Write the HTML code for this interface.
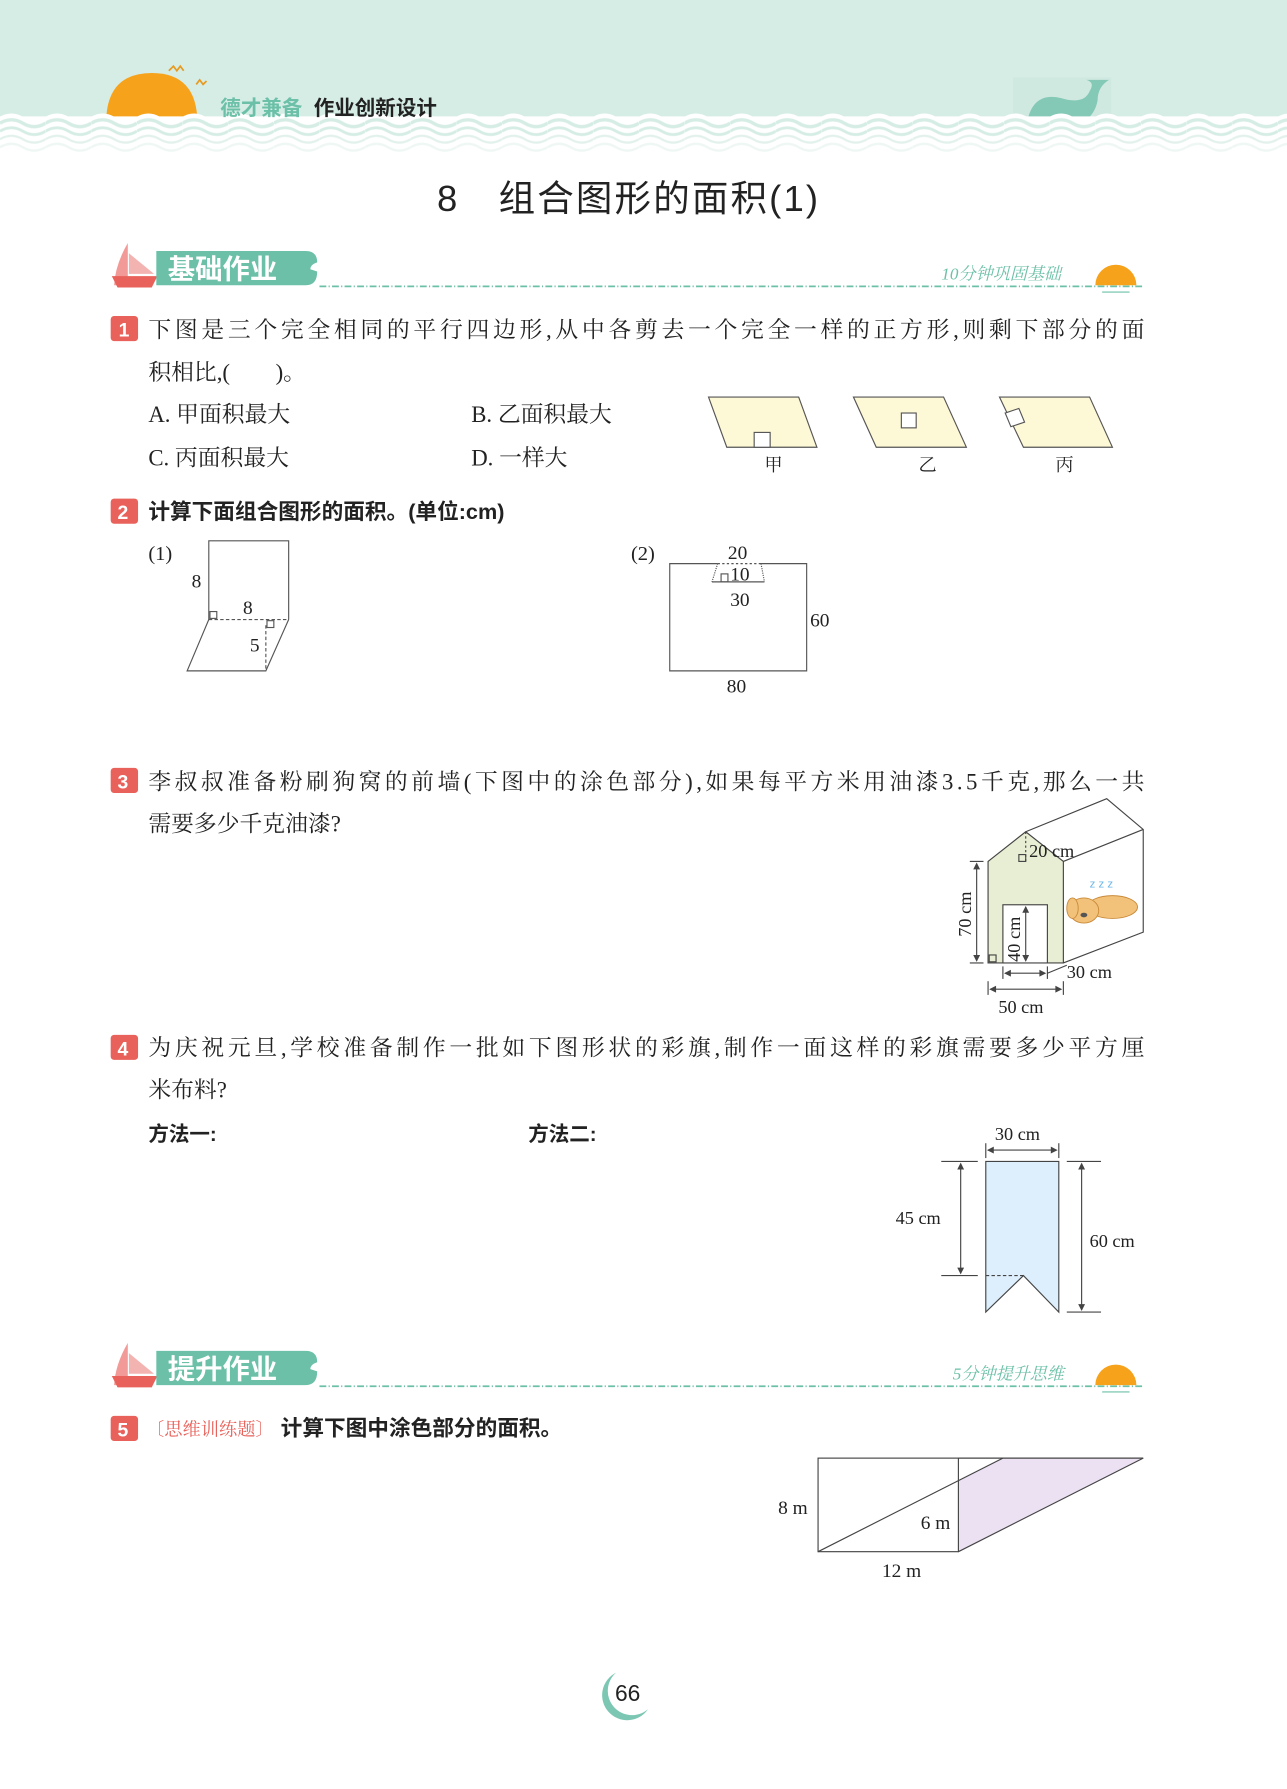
<!DOCTYPE html>
<html><head><meta charset="utf-8"><style>
html,body{margin:0;padding:0;background:#fff;}
svg{display:block;}
text{font-family:"Liberation Serif","Noto Serif CJK SC","Noto Sans CJK SC",serif;fill:#222;}
.s{font-family:"Liberation Sans","Noto Sans CJK SC",sans-serif;}
.b{font-weight:bold;}
</style></head><body>
<svg width="1287" height="1789" viewBox="0 0 1128 1568" xmlns="http://www.w3.org/2000/svg">
<defs>
<pattern id="wv" x="0" y="0" width="40" height="34" patternUnits="userSpaceOnUse">
<rect width="40" height="34" fill="#fff"/>
<path d="M0 6 Q10 0 20 6 T40 6" stroke="#d6ede6" stroke-width="3" fill="none"/>
<path d="M0 13 Q10 7 20 13 T40 13" stroke="#d6ede6" stroke-width="2.5" fill="none"/>
<path d="M0 20 Q10 14 20 20 T40 20" stroke="#e2f1ec" stroke-width="2" fill="none"/>
<path d="M0 27 Q10 21 20 27 T40 27" stroke="#eef7f4" stroke-width="2" fill="none"/>
</pattern>
</defs>
<!-- header -->
<rect x="0" y="0" width="1128" height="106" fill="#d6ede6"/>
<path d="M93 108 Q93 64 133 64 Q173 64 173 108 Z" fill="#f6a21b"/>
<path d="M148 62 l4 -4 l3 4 l3 -4 l3 4" stroke="#e69a20" fill="none" stroke-width="1.5"/>
<path d="M172 74 l3 -4 l3 4 l3 -3" stroke="#e69a20" fill="none" stroke-width="1.5"/>
<rect x="888" y="68" width="86" height="46" fill="#cfe8e0"/>
<path d="M900 108 Q905 80 930 86 Q950 92 955 80 Q960 72 952 70 L972 70 Q962 76 962 88 Q958 110 930 112 Z" fill="#84c9b5"/>
<rect x="0" y="102" width="1128" height="32" fill="url(#wv)"/>
<path d="M0 104 Q10 98 20 104 T40 104 T60 104 T80 104 T100 104 T120 104 T140 104 T160 104 T180 104 T200 104 T220 104 T240 104 T260 104 T280 104 T300 104 T320 104 T340 104 T360 104 T380 104 T400 104 T420 104 T440 104 T460 104 T480 104 T500 104 T520 104 T540 104 T560 104 T580 104 T600 104 T620 104 T640 104 T660 104 T680 104 T700 104 T720 104 T740 104 T760 104 T780 104 T800 104 T820 104 T840 104 T860 104 T880 104 T900 104 T920 104 T940 104 T960 104 T980 104 T1000 104 T1020 104 T1040 104 T1060 104 T1080 104 T1100 104 T1120 104 T1140 104" stroke="#fff" stroke-width="3" fill="none"/>
<text x="193" y="101" class="s b" font-size="18" style="fill:#6cc0a8">德才兼备</text>
<text x="275" y="101" class="s b" font-size="18">作业创新设计</text>
<!-- title -->
<text x="383" y="185" class="s" font-size="32">8</text>
<text x="437" y="185" class="s" font-size="32" textLength="280">组合图形的面积(1)</text>
<!-- section 1 banner -->
<path d="M112 213 L112 250 L100 250 Q101 232 112 213Z" fill="#f19a97"/>
<path d="M113 222 L135 240 L113 240Z" fill="#f3b3b1"/>
<path d="M98 242 L138 242 L133 252 L103 252Z" fill="#e8615a"/>
<path d="M137 220 L268 220 Q278 220 278 230 Q272 232 272 236 L278 238 Q278 250 268 250 L137 250Z" fill="#6cc0a8"/>
<text x="147" y="244" class="s b" font-size="24" style="fill:#fff">基础作业</text>
<line x1="280" y1="251" x2="1003" y2="251" stroke="#6cc0a8" stroke-width="1.5" stroke-dasharray="6 2 1 2"/>
<text x="825" y="245" font-size="15" style="fill:#6cc0a8;font-style:italic">10分钟巩固基础</text>
<path d="M960 250 A18 18 0 0 1 996 250Z" fill="#f6a21b"/>
<line x1="966" y1="256" x2="990" y2="256" stroke="#6cc0a8"/>
<!-- Q1 -->
<rect x="97" y="277" width="24" height="22" rx="3" fill="#e8615a"/>
<text x="104" y="295" class="s b" font-size="17" style="fill:#fff">1</text>
<text x="130" y="296" font-size="20" textLength="873">下图是三个完全相同的平行四边形,从中各剪去一个完全一样的正方形,则剩下部分的面</text>
<text x="130" y="333" font-size="20">积相比,(　　)。</text>
<text x="130" y="370" font-size="20">A.  甲面积最大</text>
<text x="413" y="370" font-size="20">B.  乙面积最大</text>
<text x="130" y="408" font-size="20">C.  丙面积最大</text>
<text x="413" y="408" font-size="20">D.  一样大</text>
<g stroke="#555" stroke-width="1" fill="#fdf8d5">
<polygon points="621,348 700,348 716,392 637,392"/>
<rect x="661" y="379" width="14" height="13" fill="#fff"/>
<polygon points="748,348 827,348 847,392 768,392"/>
<rect x="790" y="362" width="13" height="13" fill="#fff"/>
<polygon points="876,348 955,348 975,392 897,392"/>
<polygon points="881,362 893,358 898,370 886,374" fill="#fff"/>
</g>
<text x="670" y="413" font-size="16">甲</text>
<text x="805" y="413" font-size="16">乙</text>
<text x="925" y="413" font-size="16">丙</text>
<!-- Q2 -->
<rect x="97" y="437" width="24" height="22" rx="3" fill="#e8615a"/>
<text x="103" y="455" class="s b" font-size="17" style="fill:#fff">2</text>
<text x="130" y="455" class="s b" font-size="19">计算下面组合图形的面积。(单位:cm)</text>
<text x="130" y="491" font-size="18">(1)</text>
<g stroke="#555" stroke-width="1" fill="none">
<polyline points="183,543 183,474 253,474 253,543"/>
<line x1="183" y1="543" x2="253" y2="543" stroke-dasharray="3 2"/>
<polyline points="183,543 164,588 233,588 253,543"/>
<line x1="233" y1="548" x2="233" y2="588" stroke-dasharray="3 2"/>
<rect x="184" y="536" width="6" height="6"/>
<rect x="234" y="544" width="6" height="6"/>
</g>
<text x="168" y="515" font-size="17">8</text>
<text x="213" y="538" font-size="17">8</text>
<text x="219" y="571" font-size="17">5</text>
<text x="553" y="491" font-size="18">(2)</text>
<g stroke="#555" stroke-width="1" fill="none">
<polyline points="629,494 587,494 587,588 707,588 707,494 667,494"/>
<line x1="629" y1="494" x2="667" y2="494" stroke-dasharray="2 2"/>
<line x1="624" y1="510" x2="670" y2="510"/>
<line x1="629" y1="494" x2="624" y2="510" stroke-dasharray="1 1"/>
<line x1="667" y1="494" x2="670" y2="510" stroke-dasharray="1 1"/>
<rect x="632" y="503" width="6" height="7"/>
</g>
<text x="638" y="490" font-size="17">20</text>
<text x="640" y="509" font-size="17">10</text>
<text x="640" y="531" font-size="17">30</text>
<text x="710" y="549" font-size="17">60</text>
<text x="637" y="607" font-size="17">80</text>
<!-- Q3 -->
<rect x="97" y="673" width="24" height="22" rx="3" fill="#e8615a"/>
<text x="103" y="691" class="s b" font-size="17" style="fill:#fff">3</text>
<text x="130" y="692" font-size="20" textLength="873">李叔叔准备粉刷狗窝的前墙(下图中的涂色部分),如果每平方米用油漆3.5千克,那么一共</text>
<text x="130" y="729" font-size="20">需要多少千克油漆?</text>
<g stroke="#444" stroke-width="1" fill="none">
<polygon points="866,755 899,729 932,755 932,844 866,844" fill="#e8eed3"/>
<rect x="879" y="793" width="39" height="51" fill="#fff"/>
<polyline points="899,729 970,700 1002,727 1002,817 932,844"/>
<line x1="932" y1="755" x2="1002" y2="727"/>
<line x1="899" y1="729" x2="899" y2="755" stroke-dasharray="2 2"/>
<rect x="893" y="749" width="6" height="6"/>
<rect x="867" y="837" width="6" height="6"/>
<line x1="856" y1="757" x2="856" y2="842"/>
<line x1="850" y1="755" x2="862" y2="755"/><line x1="850" y1="844" x2="862" y2="844"/>
<line x1="899" y1="795" x2="899" y2="842"/>
<line x1="881" y1="853" x2="916" y2="853"/>
<line x1="879" y1="847" x2="879" y2="858"/><line x1="918" y1="847" x2="918" y2="858"/>
<line x1="918" y1="853" x2="935" y2="846"/>
<line x1="868" y1="867" x2="930" y2="867"/>
<line x1="866" y1="860" x2="866" y2="872"/><line x1="932" y1="860" x2="932" y2="872"/>
</g>
<g fill="#444">
<path d="M856 756 l-3 6 h6z"/><path d="M856 843 l-3 -6 h6z"/>
<path d="M899 794 l-3 6 h6z"/><path d="M899 843 l-3 -6 h6z"/>
<path d="M880 853 l6 -3 v6z"/><path d="M917 853 l-6 -3 v6z"/>
<path d="M867 867 l6 -3 v6z"/><path d="M931 867 l-6 -3 v6z"/>
</g>
<g fill="#f3c27a" stroke="#c98a3a" stroke-width="0.8">
<ellipse cx="975" cy="795" rx="22" ry="10"/>
<ellipse cx="950" cy="798" rx="13" ry="11"/>
<ellipse cx="940" cy="796" rx="5" ry="9"/>
</g>
<ellipse cx="950" cy="802" rx="3" ry="2" fill="#555"/>
<text x="955" y="778" class="s" font-size="10" style="fill:#6ab6e8">z z z</text>
<text x="902" y="751" font-size="16">20 cm</text>
<text x="935" y="857" font-size="16">30 cm</text>
<text x="875" y="888" font-size="16">50 cm</text>
<text transform="translate(851,821) rotate(-90)" font-size="16">70 cm</text>
<text transform="translate(894,843) rotate(-90)" font-size="16">40 cm</text>
<!-- Q4 -->
<rect x="97" y="907" width="24" height="22" rx="3" fill="#e8615a"/>
<text x="103" y="925" class="s b" font-size="17" style="fill:#fff">4</text>
<text x="130" y="925" font-size="20" textLength="873">为庆祝元旦,学校准备制作一批如下图形状的彩旗,制作一面这样的彩旗需要多少平方厘</text>
<text x="130" y="962" font-size="20">米布料?</text>
<text x="130" y="1000" class="s b" font-size="18">方法一:</text>
<text x="463" y="1000" class="s b" font-size="18">方法二:</text>
<g stroke="#444" stroke-width="1" fill="none">
<polygon points="864,1018 928,1018 928,1150 897,1118 864,1150" fill="#ddeefc"/>
<line x1="864" y1="1118" x2="897" y2="1118" stroke-dasharray="3 2"/>
<line x1="825" y1="1018" x2="857" y2="1018"/><line x1="825" y1="1118" x2="857" y2="1118"/>
<line x1="842" y1="1020" x2="842" y2="1116"/>
<line x1="935" y1="1018" x2="965" y2="1018"/><line x1="935" y1="1150" x2="965" y2="1150"/>
<line x1="948" y1="1020" x2="948" y2="1148"/>
<line x1="866" y1="1008" x2="926" y2="1008"/>
<line x1="864" y1="1002" x2="864" y2="1015"/><line x1="928" y1="1002" x2="928" y2="1015"/>
</g>
<g fill="#444">
<path d="M842 1019 l-3 6 h6z"/><path d="M842 1117 l-3 -6 h6z"/>
<path d="M948 1019 l-3 6 h6z"/><path d="M948 1149 l-3 -6 h6z"/>
<path d="M865 1008 l6 -3 v6z"/><path d="M927 1008 l-6 -3 v6z"/>
</g>
<text x="872" y="999" font-size="16">30 cm</text>
<text x="785" y="1073" font-size="16">45 cm</text>
<text x="955" y="1093" font-size="16">60 cm</text>
<!-- section 2 banner -->
<path d="M112 1177 L112 1214 L100 1214 Q101 1196 112 1177Z" fill="#f19a97"/>
<path d="M113 1186 L135 1204 L113 1204Z" fill="#f3b3b1"/>
<path d="M98 1206 L138 1206 L133 1216 L103 1216Z" fill="#e8615a"/>
<path d="M137 1184 L268 1184 Q278 1184 278 1194 Q272 1196 272 1200 L278 1202 Q278 1214 268 1214 L137 1214Z" fill="#6cc0a8"/>
<text x="147" y="1208" class="s b" font-size="24" style="fill:#fff">提升作业</text>
<line x1="280" y1="1215" x2="1003" y2="1215" stroke="#6cc0a8" stroke-width="1.5" stroke-dasharray="6 2 1 2"/>
<text x="835" y="1209" font-size="15" style="fill:#6cc0a8;font-style:italic">5分钟提升思维</text>
<path d="M960 1214 A18 18 0 0 1 996 1214Z" fill="#f6a21b"/>
<line x1="966" y1="1220" x2="990" y2="1220" stroke="#6cc0a8"/>
<!-- Q5 -->
<rect x="97" y="1241" width="24" height="22" rx="3" fill="#e8615a"/>
<text x="103" y="1259" class="s b" font-size="17" style="fill:#fff">5</text>
<text x="128" y="1258" font-size="16" style="fill:#e8615a">〔思维训练题〕</text>
<text x="246" y="1258" class="s b" font-size="19">计算下图中涂色部分的面积。</text>
<g stroke="#444" stroke-width="1" fill="none">
<polygon points="840,1298 879,1278 1002,1278 840,1360" fill="#ece0f3" stroke="none"/>
<rect x="717" y="1278" width="123" height="82"/>
<line x1="840" y1="1278" x2="1002" y2="1278"/>
<line x1="717" y1="1360" x2="879" y2="1278"/>
<line x1="840" y1="1360" x2="1002" y2="1278"/>
</g>
<text x="682" y="1327" font-size="17">8 m</text>
<text x="807" y="1340" font-size="17">6 m</text>
<text x="773" y="1382" font-size="17">12 m</text>
<!-- page number -->
<path d="M540 1466 A22 22 0 1 0 568 1498 A19 19 0 1 1 540 1466Z" fill="#7cc7b3"/>
<text x="539" y="1491" class="s" font-size="20">66</text>
</svg>
</body></html>
